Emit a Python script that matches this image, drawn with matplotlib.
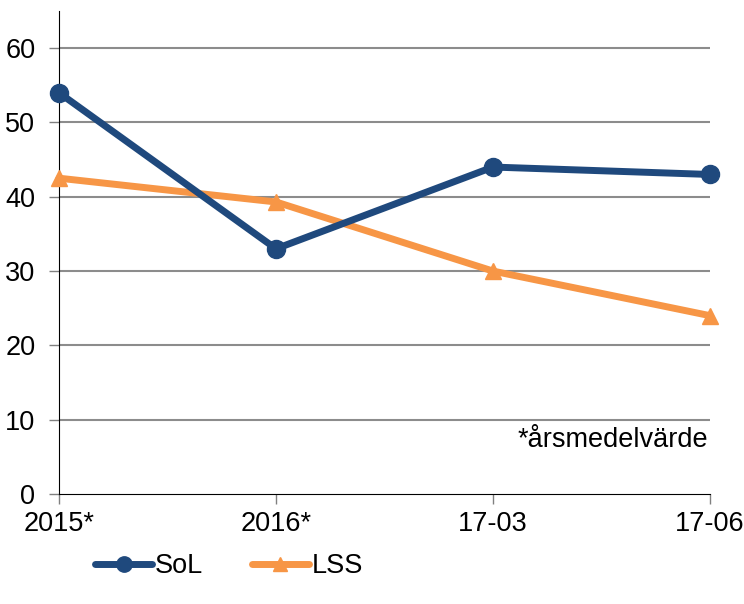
import matplotlib
matplotlib.use("Agg")
import matplotlib.pyplot as plt

categories = ["2015*", "2016*", "17-03", "17-06"]
sol = [54, 33, 44, 43]
lss = [42.5, 39.3, 30, 24]
yticks = [0, 10, 20, 30, 40, 50, 60]

plt.rcParams['font.family'] = ['Liberation Sans', 'DejaVu Sans']

fig = plt.figure(figsize=(7.44, 6.04), dpi=100)
ax = fig.add_axes([59/744, 1-494/604, (710-59)/744, (494-11)/604])

x = list(range(len(categories)))
blue = "#1F497D"
orange = "#F79646"
fs = 19.5
ax.plot(x, sol, color=blue, lw=5, marker="o", ms=13, label="SoL", zorder=4,
        solid_capstyle="round", clip_on=False)
ax.plot(x, lss, color=orange, lw=5, marker="^", ms=12, label="LSS", zorder=3,
        solid_capstyle="round", clip_on=False)

ax.set_xlim(0, 3)
ax.set_ylim(0, 65)
ax.set_yticks(yticks)
ax.set_xticks(x)
ax.set_xticklabels(categories)
ax.tick_params(axis="both", labelsize=fs, length=7, width=1, color="#808080")
ax.tick_params(axis="y", pad=10)
ax.tick_params(axis="x", pad=5)
for t in yticks[1:]:
    ax.axhline(t, color="#8c8c8c", lw=1.5, zorder=1)
ax.spines["top"].set_visible(False)
ax.spines["right"].set_visible(False)
ax.spines["left"].set_color("black")
ax.spines["bottom"].set_color("black")

ax.text(2.99, 7.3, "*årsmedelvärde", fontsize=fs, ha="right", va="center",
        transform=ax.transData,
        bbox=dict(facecolor="white", edgecolor="none", pad=2), zorder=5)

leg = fig.legend(loc="center left", bbox_to_anchor=(71/744, 1-566/604), ncol=2, frameon=False,
                 fontsize=fs, handlelength=2.1, handletextpad=0.1, columnspacing=1.8,
                 markerscale=0.85)
for h in leg.legend_handles:
    h.set_solid_capstyle("round")

fig.savefig("out.png", dpi=100)
